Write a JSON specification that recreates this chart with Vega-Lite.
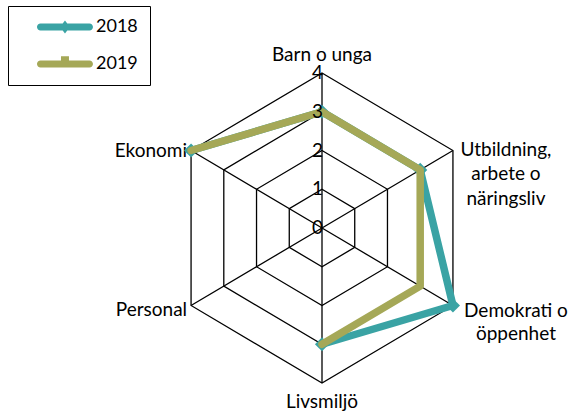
{
  "$schema": "https://vega.github.io/schema/vega-lite/v6.json",
  "width": 574,
  "height": 414,
  "autosize": "none",
  "padding": 0,
  "background": "white",
  "config": {"view": {"stroke": null}, "font": "Lato"},
  "resolve": {"legend": {"color": "independent", "shape": "independent"}},
  "datasets": {
    "axes": [
      {"axis": "Barn o unga", "k": 0, "label": ["Barn o unga"], "levels": [1, 2, 3, 4]},
      {"axis": "Utbildning, arbete o näringsliv", "k": 1, "label": ["Utbildning,", "arbete o", "näringsliv"], "levels": [1, 2, 3, 4]},
      {"axis": "Demokrati o öppenhet", "k": 2, "label": ["Demokrati o", "öppenhet"], "levels": [1, 2, 3, 4]},
      {"axis": "Livsmiljö", "k": 3, "label": ["Livsmiljö"], "levels": [1, 2, 3, 4]},
      {"axis": "Personal", "k": 4, "label": ["Personal"], "levels": [1, 2, 3, 4]},
      {"axis": "Ekonomi", "k": 5, "label": ["Ekonomi"], "levels": [1, 2, 3, 4]}
    ],
    "ticks": [{"tick": 0}, {"tick": 1}, {"tick": 2}, {"tick": 3}, {"tick": 4}],
    "scores": [
      {"series": "2018", "axis": "Barn o unga", "k": 0, "value": 3},
      {"series": "2018", "axis": "Utbildning, arbete o näringsliv", "k": 1, "value": 3},
      {"series": "2018", "axis": "Demokrati o öppenhet", "k": 2, "value": 4},
      {"series": "2018", "axis": "Livsmiljö", "k": 3, "value": 3},
      {"series": "2018", "axis": "Personal", "k": 4, "value": null},
      {"series": "2018", "axis": "Ekonomi", "k": 5, "value": 4},
      {"series": "2019", "axis": "Barn o unga", "k": 0, "value": 3},
      {"series": "2019", "axis": "Utbildning, arbete o näringsliv", "k": 1, "value": 3},
      {"series": "2019", "axis": "Demokrati o öppenhet", "k": 2, "value": 3},
      {"series": "2019", "axis": "Livsmiljö", "k": 3, "value": 3},
      {"series": "2019", "axis": "Personal", "k": 4, "value": null},
      {"series": "2019", "axis": "Ekonomi", "k": 5, "value": 4}
    ]
  },
  "layer": [
    {
      "data": {"name": "axes"},
      "transform": [
        {"flatten": ["levels"], "as": ["level"]},
        {"calculate": "datum.level*sin(datum.k*PI/3)", "as": "x"},
        {"calculate": "datum.level*cos(datum.k*PI/3)", "as": "y"}
      ],
      "mark": {"type": "line", "interpolate": "linear-closed", "stroke": "black", "strokeWidth": 1.3},
      "encoding": {
        "x": {"field": "x", "type": "quantitative", "scale": {"domain": [-8.519, 6.667], "nice": false, "zero": false}, "axis": null},
        "y": {"field": "y", "type": "quantitative", "scale": {"domain": [-4.8, 5.884], "nice": false, "zero": false}, "axis": null},
        "detail": {"field": "level", "type": "nominal"},
        "order": {"field": "k", "type": "quantitative"}
      }
    },
    {
      "data": {"name": "axes"},
      "transform": [
        {"calculate": "4*sin(datum.k*PI/3)", "as": "x"},
        {"calculate": "4*cos(datum.k*PI/3)", "as": "y"}
      ],
      "mark": {"type": "rule", "stroke": "black", "strokeWidth": 1.3},
      "encoding": {
        "x": {"field": "x", "type": "quantitative"},
        "y": {"field": "y", "type": "quantitative"},
        "x2": {"datum": 0},
        "y2": {"datum": 0}
      }
    },
    {
      "data": {"name": "axes"},
      "transform": [
        {"calculate": "4*sin(datum.k*PI/3)", "as": "x"},
        {"calculate": "4*cos(datum.k*PI/3)", "as": "y"}
      ],
      "encoding": {
        "x": {"field": "x", "type": "quantitative"},
        "y": {"field": "y", "type": "quantitative"},
        "text": {"field": "label", "type": "nominal"}
      },
      "layer": [
        {"transform": [{"filter": "datum.k == 0"}], "mark": {"type": "text", "align": "center", "baseline": "middle", "dy": -18, "fontSize": 19, "font": "Lato", "color": "black"}},
        {"transform": [{"filter": "datum.k == 1"}], "mark": {"type": "text", "align": "center", "baseline": "middle", "dx": 53, "dy": -1, "lineHeight": 24.5, "fontSize": 19, "font": "Lato", "color": "black"}},
        {"transform": [{"filter": "datum.k == 2"}], "mark": {"type": "text", "align": "center", "baseline": "middle", "dx": 63, "dy": 5, "lineHeight": 23, "fontSize": 19, "font": "Lato", "color": "black"}},
        {"transform": [{"filter": "datum.k == 3"}], "mark": {"type": "text", "align": "center", "baseline": "middle", "dy": 19, "fontSize": 19, "font": "Lato", "color": "black"}},
        {"transform": [{"filter": "datum.k == 4"}], "mark": {"type": "text", "align": "right", "baseline": "middle", "dx": -4, "dy": 4, "fontSize": 19, "font": "Lato", "color": "black"}},
        {"transform": [{"filter": "datum.k == 5"}], "mark": {"type": "text", "align": "right", "baseline": "middle", "dx": -4, "dy": 0, "fontSize": 19, "font": "Lato", "color": "black"}}
      ]
    },
    {
      "data": {"name": "scores"},
      "transform": [
        {"filter": "datum.series == '2018' && isValid(datum.value)"},
        {"calculate": "datum.value*sin(datum.k*PI/3)", "as": "x"},
        {"calculate": "datum.value*cos(datum.k*PI/3)", "as": "y"},
        {"calculate": "(datum.k+1)%6", "as": "o"}
      ],
      "mark": {"type": "line", "strokeWidth": 7.5, "strokeJoin": "round", "strokeCap": "round"},
      "encoding": {
        "x": {"field": "x", "type": "quantitative"},
        "y": {"field": "y", "type": "quantitative"},
        "order": {"field": "o", "type": "quantitative"},
        "color": {"field": "series", "type": "nominal", "scale": {"domain": ["2018", "2019"], "range": ["#3aa3a4", "#a5a857"]}, "legend": null}
      }
    },
    {
      "data": {"name": "scores"},
      "transform": [
        {"filter": "datum.series == '2018' && isValid(datum.value)"},
        {"calculate": "datum.value*sin(datum.k*PI/3)", "as": "x"},
        {"calculate": "datum.value*cos(datum.k*PI/3)", "as": "y"}
      ],
      "mark": {"type": "point", "shape": "diamond", "filled": true, "size": 200, "opacity": 1},
      "encoding": {
        "x": {"field": "x", "type": "quantitative"},
        "y": {"field": "y", "type": "quantitative"},
        "color": {"field": "series", "type": "nominal", "legend": null}
      }
    },
    {
      "data": {"name": "scores"},
      "transform": [
        {"filter": "datum.series == '2019' && isValid(datum.value)"},
        {"calculate": "datum.value*sin(datum.k*PI/3)", "as": "x"},
        {"calculate": "datum.value*cos(datum.k*PI/3)", "as": "y"},
        {"calculate": "(datum.k+1)%6", "as": "o"}
      ],
      "mark": {"type": "line", "strokeWidth": 7.5, "strokeJoin": "round", "strokeCap": "round"},
      "encoding": {
        "x": {"field": "x", "type": "quantitative"},
        "y": {"field": "y", "type": "quantitative"},
        "order": {"field": "o", "type": "quantitative"},
        "color": {"field": "series", "type": "nominal", "legend": null}
      }
    },
    {
      "data": {"name": "ticks"},
      "mark": {"type": "text", "align": "right", "baseline": "middle", "dx": 1, "fontSize": 19, "font": "Lato", "color": "black"},
      "encoding": {
        "x": {"datum": 0},
        "y": {"field": "tick", "type": "quantitative"},
        "text": {"field": "tick", "type": "nominal"}
      }
    },
    {
      "data": {"name": "scores"},
      "transform": [
        {"filter": "datum.value > 100"}
      ],
      "mark": {"type": "point", "filled": true, "opacity": 1},
      "encoding": {
        "color": {
          "field": "series", "type": "nominal",
          "legend": {
            "orient": "none", "legendX": 8, "legendY": 6, "title": null,
            "symbolSize": 196, "symbolStrokeWidth": 0, "symbolOpacity": 1,
            "labelFont": "Lato", "labelFontSize": 18, "labelColor": "black",
            "labelExpr": "datum.label + '\u00a0\u00a0\u00a0\u00a0'",
            "labelOffset": 58, "rowPadding": 19, "padding": 12,
            "strokeColor": "black", "fillColor": "white"
          }
        },
        "shape": {
          "field": "series", "type": "nominal",
          "scale": {
            "domain": ["2018", "2019"],
            "range": [
              "M1.64,-0.5 L8.64,-0.5 A0.5,0.5 0 0 1 8.64,0.5 L1.64,0.5 A0.5,0.5 0 0 1 1.64,-0.5 Z M5.14,-0.93 L5.85,0 L5.14,0.93 L4.43,0 Z",
              "M1.64,-0.5 L4.57,-0.5 L4.57,-1.1 L5.71,-1.1 L5.71,-0.5 L8.64,-0.5 A0.5,0.5 0 0 1 8.64,0.5 L1.64,0.5 A0.5,0.5 0 0 1 1.64,-0.5 Z"
            ]
          },
          "legend": {
            "orient": "none", "legendX": 8, "legendY": 6, "title": null,
            "symbolSize": 196, "symbolStrokeWidth": 0, "symbolOpacity": 1,
            "labelFont": "Lato", "labelFontSize": 18, "labelColor": "black",
            "labelExpr": "datum.label + '\u00a0\u00a0\u00a0\u00a0'",
            "labelOffset": 58, "rowPadding": 19, "padding": 12,
            "strokeColor": "black", "fillColor": "white"
          }
        }
      }
    }
  ]
}
